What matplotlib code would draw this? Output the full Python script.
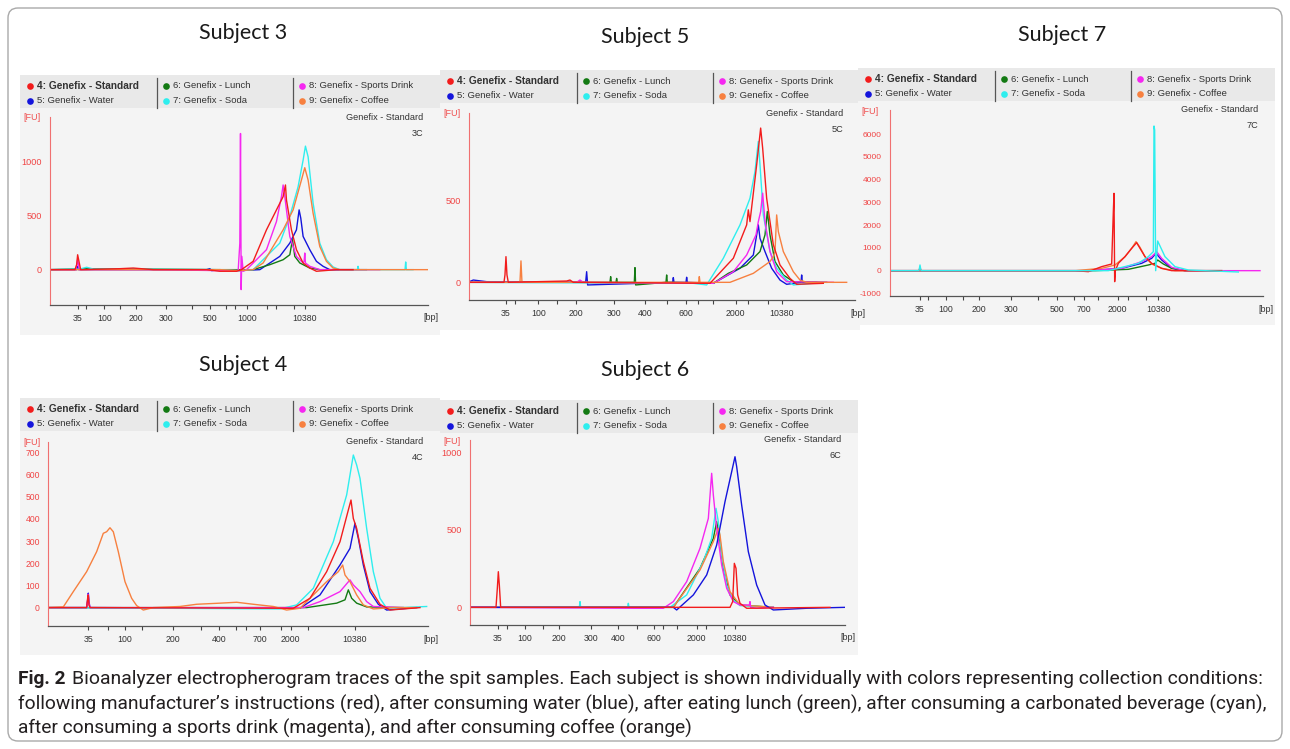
import matplotlib.pyplot as plt
from matplotlib.patches import Rectangle, FancyBboxPatch

W, H = 1290, 749

conditions = ['4: Genefix - Standard', '5: Genefix - Water', '6: Genefix - Lunch',
              '7: Genefix - Soda', '8: Genefix - Sports Drink', '9: Genefix - Coffee']
colors = ['#f21c1c', '#1414dc', '#137a13', '#2eeeee', '#f527f0', '#f7803f']
STD, WATER, LUNCH, SODA, SPORTS, COFFEE = range(6)

# ladder ticks: migration position of each ladder band and its bp label
s3_ticks = [173, 197, 253, 301, 347, 437, 517, 571, 617, 645, 683, 743, 769, 822, 855]
s3_tick_labels = ['35', '', '100', '', '200', '300', '', '500', '', '', '1000', '', '', '', '10380']
s5_ticks = [198, 225, 295, 352, 408, 521, 615, 680, 737, 773, 820, 887, 923, 983, 1025]
s5_tick_labels = ['35', '', '100', '', '200', '300', '400', '', '600', '', '', '2000', '', '', '10380']
s7_ticks = [195, 218, 273, 323, 372, 468, 550, 607, 658, 688, 730, 788, 818, 873, 910]
s7_tick_labels = ['35', '', '100', '', '200', '300', '', '500', '', '700', '', '2000', '', '', '10380']
s4_ticks = [205, 265, 315, 365, 460, 542, 597, 647, 678, 720, 783, 812, 865, 1005]
s4_tick_labels = ['35', '', '100', '', '200', '', '400', '', '', '700', '', '2000', '', '10380']
s6_ticks = [173, 200, 255, 308, 357, 452, 535, 592, 642, 670, 710, 770, 797, 852, 885]
s6_tick_labels = ['35', '', '100', '', '200', '300', '400', '', '600', '', '', '2000', '', '', '10380']

# traces: (migration position, fluorescence [FU])
s3_std = [(90, 0), (165, 0), (170, 46), (173, 138), (176, 92), (182, 0), (300, 9), (340, 15), (400, 0),
          (560, 0), (600, -15), (650, -15), (665, 0), (700, 77), (740, 369), (770, 554), (790, 677),
          (797, 785), (800, 646), (815, 369), (830, 185), (850, 62), (870, 15), (890, -15), (950, 0), (1000, 0)]
s3_water = [(90, 0), (170, 0), (173, 31), (176, 0), (560, 0), (570, 9), (575, -9), (600, 0), (660, -9),
            (720, 0), (780, 123), (810, 246), (830, 369), (838, 554), (843, 477), (850, 308), (870, 185),
            (890, 77), (910, 31), (930, 0), (1000, 0)]
s3_lunch = [(90, 0), (200, 9), (600, 0), (700, 0), (750, 46), (790, 92), (810, 138), (818, 277),
            (825, 123), (840, 62), (870, 15), (900, 0), (1040, 0)]
s3_soda = [(90, 0), (180, 6), (200, 22), (220, 6), (600, 0), (660, -9), (700, 0), (780, 246), (810, 492),
           (835, 769), (850, 1015), (857, 1145), (865, 1046), (880, 615), (900, 246), (920, 92), (940, 25),
           (960, 0), (1013, 0), (1015, 31), (1017, 0), (1156, 0), (1158, 71), (1160, 0), (1180, 0)]
s3_sports = [(90, 0), (168, 0), (173, 92), (178, 0), (400, 0), (600, -9), (655, -9), (660, 246), (662, 1262),
             (664, -185), (666, 123), (670, -15), (680, 0), (740, 185), (770, 446), (785, 677), (790, 785),
             (795, 677), (810, 308), (830, 123), (850, 62), (853, 77), (855, 154), (857, 62), (870, 31),
             (900, 0), (1080, 0)]
s3_coffee = [(90, 0), (600, 0), (660, -9), (700, 0), (730, 62), (790, 369), (820, 554), (845, 831),
             (855, 945), (865, 831), (880, 523), (900, 215), (920, 77), (940, 15), (960, 0), (1225, 0)]

s5_std = [(88, 0), (192, 0), (195, 45), (198, 157), (201, 45), (205, 0), (380, 8), (390, 14), (400, 0),
          (810, -6), (880, 147), (920, 351), (925, 443), (930, 371), (950, 718), (962, 943), (968, 820),
          (980, 514), (1000, 229), (1020, 106), (1050, 24), (1070, -12), (1150, -6)]
s5_water = [(88, 4), (100, 14), (140, 4), (437, 0), (440, 65), (443, -16), (698, 0), (700, 29), (702, 0),
            (738, 0), (740, 31), (742, 0), (820, -6), (900, 86), (940, 167), (955, 351), (960, 269),
            (975, 188), (995, 86), (1020, 14), (1040, -12), (1083, 0), (1085, 45), (1087, 0), (1130, 0)]
s5_lunch = [(88, 0), (510, 0), (512, 35), (514, 0), (528, 0), (530, 24), (532, 0), (583, 0), (585, 90),
            (587, -16), (678, 0), (680, 45), (682, 0), (820, -6), (865, 55), (920, 106), (960, 188),
            (975, 290), (982, 433), (990, 290), (1005, 127), (1030, 45), (1060, 4), (1160, 0)]
s5_soda = [(88, 0), (760, -6), (800, -16), (850, 147), (900, 351), (930, 514), (945, 678), (955, 861),
           (960, 718), (970, 412), (990, 188), (1010, 86), (1040, 14), (1060, -16), (1150, 0)]
s5_sports = [(88, 0), (410, 0), (420, 14), (430, 0), (820, -6), (880, 65), (920, 167), (948, 290),
             (955, 371), (962, 433), (968, 545), (975, 371), (990, 188), (1010, 65), (1040, 4), (1180, 0)]
s5_coffee = [(88, 0), (240, 0), (243, 131), (246, 0), (776, 0), (778, 35), (780, 0), (870, 0), (940, 55),
             (990, 127), (1000, 157), (1005, 188), (1010, 412), (1015, 310), (1030, 188), (1060, 65),
             (1080, 14), (1100, 0), (1220, 0)]

s7_std = [(105, 0), (192, 0), (195, 146), (198, 0), (660, 0), (700, -44), (740, 176), (770, 293),
          (775, 2592), (777, 3397), (779, -483), (781, 0), (790, 322), (810, 615), (830, 981), (845, 1230),
          (855, 981), (870, 615), (890, 322), (920, 102), (950, 0), (1100, 0)]
s7_water = [(105, 0), (700, 0), (800, 102), (860, 322), (890, 542), (903, 761), (920, 469), (950, 102),
            (990, 0), (1100, 0)]
s7_lunch = [(105, 0), (720, 0), (820, 59), (880, 249), (900, 322), (908, 469), (925, 293), (950, 102),
            (990, 0), (1100, 0)]
s7_soda = [(105, 0), (192, 0), (195, 249), (198, 0), (700, 0), (760, 0), (850, 322), (880, 615),
           (895, 835), (897, 6354), (899, 6179), (902, 0), (908, 1303), (930, 615), (960, 176), (1000, 29),
           (1150, -59)]
s7_sports = [(105, 0), (700, 0), (800, 102), (860, 395), (890, 615), (905, 835), (920, 542), (950, 146),
             (990, 0), (1215, 0)]
s7_coffee = [(105, 0), (660, 0), (740, 102), (780, 249), (810, 615), (830, 981), (843, 1274), (855, 1025),
             (870, 615), (890, 293), (920, 102), (960, 0), (1100, 0)]

s4_std = [(85, 0), (200, 0), (203, 42), (205, 57), (207, 12), (210, 0), (820, -3), (870, 42), (920, 162),
          (960, 297), (985, 440), (993, 485), (1000, 402), (1010, 357), (1030, 207), (1050, 87), (1080, 15),
          (1110, -11), (1200, 0)]
s4_water = [(85, 0), (200, 0), (203, 35), (205, 65), (207, 27), (210, 0), (840, -3), (900, 57), (960, 192),
            (990, 267), (1005, 380), (1015, 312), (1030, 192), (1050, 72), (1075, 15), (1100, -11), (1190, 0)]
s4_lunch = [(85, 0), (860, 0), (950, 20), (975, 35), (985, 80), (995, 42), (1010, 20), (1040, 3), (1150, 0)]
s4_soda = [(85, 0), (780, -6), (830, 12), (880, 87), (940, 297), (980, 508), (1000, 688), (1010, 643),
           (1020, 583), (1040, 357), (1060, 162), (1080, 42), (1100, -3), (1220, 5)]
s4_sports = [(85, 0), (200, 0), (203, 27), (205, 60), (207, 20), (210, 0), (850, 0), (900, 27), (960, 72),
             (990, 125), (1000, 102), (1020, 72), (1040, 27), (1060, 5), (1150, 0)]
s4_coffee = [(85, 0), (130, 3), (160, 72), (200, 162), (230, 252), (250, 335), (260, 342), (270, 360),
             (280, 342), (295, 252), (315, 117), (335, 42), (350, 9), (370, -11), (400, 0), (480, 5),
             (530, 15), (600, 20), (650, 24), (700, 15), (760, 5), (800, -11), (840, -3), (880, 57),
             (920, 117), (955, 162), (968, 192), (975, 147), (990, 117), (1000, 87), (1010, 57), (1030, 12),
             (1060, -6), (1120, 0), (1190, 0)]

s6_std = [(90, 0), (168, 0), (172, 123), (175, 230), (178, 144), (182, 0), (600, 0), (870, 0), (878, 37),
          (883, 284), (888, 252), (893, 80), (900, 26), (920, -6), (1170, 0)]
s6_water = [(90, 0), (700, 0), (710, -17), (760, 80), (800, 209), (830, 402), (855, 682), (875, 875),
            (885, 972), (890, 908), (905, 660), (925, 359), (950, 144), (975, 15), (1000, -17), (1100, -6),
            (1215, 0)]
s6_lunch = [(90, 0), (700, 0), (780, 252), (820, 445), (830, 553), (840, 424), (850, 252), (870, 80),
            (900, 15), (1000, 0)]
s6_soda = [(90, 0), (418, 0), (420, 37), (422, 0), (563, 0), (565, 26), (567, 0), (690, 0), (740, 80),
           (790, 295), (815, 445), (828, 639), (835, 553), (845, 338), (860, 144), (880, 47), (900, 11),
           (1000, 0)]
s6_sports = [(90, 0), (600, -6), (670, -6), (700, 37), (740, 166), (780, 381), (805, 574), (815, 865),
             (820, 725), (830, 510), (845, 273), (860, 123), (880, 37), (900, 15), (928, 15), (930, 37),
             (932, 0), (950, -6), (1000, 0)]
s6_coffee = [(90, 0), (700, 0), (780, 241), (820, 424), (835, 510), (840, 467), (850, 295), (870, 101),
             (900, 15), (1000, 0)]

fig = plt.figure(figsize=(W / 100, H / 100), dpi=100)
base = fig.add_axes([0, 0, 1, 1])
base.set_xlim(0, W)
base.set_ylim(H, 0)
base.axis('off')

base.add_patch(FancyBboxPatch((8, 8), W - 16, H - 16, boxstyle='round,pad=0,rounding_size=10',
                              facecolor='white', edgecolor='#a9a9a9', lw=1))

ui = 'Liberation Sans'


def draw_panel(title, title_xy, box, axbox, xlim, ylim, yticks, ticks, tick_labels, traces, tag, ysize=6.2):
    x0, y0, x1, y1 = box
    base.text(title_xy[0], title_xy[1], title, fontsize=15.5, family='Lato', ha='center', va='center',
              color='#1a1a1a')
    base.add_patch(Rectangle((x0, y0), x1 - x0, y1 - y0, facecolor='#f4f4f4', edgecolor='none'))
    base.add_patch(Rectangle((x0, y0), x1 - x0, 33, facecolor='#e9e9e9', edgecolor='none'))
    for i, lab in enumerate(conditions):
        cx = x0 + [10, 146, 282][i // 2]
        cy = y0 + [11, 25.5][i % 2]
        base.plot(cx, cy, 'o', ms=4.8, color=colors[i], mec='none')
        base.text(cx + 7, cy, lab, fontsize=7.3 if i == 0 else 6.8, family=ui, ha='left', va='center',
                  weight='bold' if i == 0 else 'normal', color='#333333')
    for sx in (137, 273):
        base.plot([x0 + sx, x0 + sx], [y0 + 3, y0 + 33], color='#555555', lw=0.9)

    l, t, r, b = axbox
    ax = fig.add_axes([l / W, 1 - b / H, (r - l) / W, (b - t) / H])
    ax.patch.set_alpha(0)
    for k, pts in traces:
        ax.plot([p[0] for p in pts], [p[1] for p in pts], color=colors[k], lw=1.0)
    ax.set_xlim(*xlim)
    ax.set_ylim(*ylim)
    for s in ('top', 'right'):
        ax.spines[s].set_visible(False)
    ax.spines['left'].set_color('#f07070')
    ax.spines['bottom'].set_color('#555555')
    ax.spines['bottom'].set_linewidth(0.9)
    ax.set_xticks(ticks, tick_labels)
    ax.set_yticks(yticks, [str(v) for v in yticks])
    ax.tick_params(axis='x', length=3, width=0.8, color='#444444', labelsize=6.3, labelcolor='#333333', pad=3.5)
    ax.tick_params(axis='y', length=0, labelsize=ysize, labelcolor='#f04545', pad=6)
    for lab in ax.get_xticklabels() + ax.get_yticklabels():
        lab.set_family(ui)

    base.text(x0 + 3, t + 1, '[FU]', fontsize=6.5, family=ui, color='#f05050', ha='left', va='center')
    base.text(r + 3, b + 13, '[bp]', fontsize=6.5, family=ui, color='#333333', ha='center', va='center')
    base.text(x1 - 17, t, 'Genefix - Standard', fontsize=6.6, family=ui, color='#333333',
              ha='right', va='center')
    base.text(x1 - 17, t + 16, tag, fontsize=6.6, family=ui, color='#333333', ha='right', va='center')


draw_panel('Subject 3', (243, 33), (20, 75, 440, 335), (50, 117, 428, 304.5), (90, 1225), (-323, 1415),
           [0, 500, 1000], s3_ticks, s3_tick_labels,
           [(WATER, s3_water), (LUNCH, s3_lunch), (SODA, s3_soda), (SPORTS, s3_sports),
            (COFFEE, s3_coffee), (STD, s3_std)], '3C', ysize=6.6)
draw_panel('Subject 5', (645, 37), (440, 70, 860, 330), (469.3, 113, 855, 300), (88, 1245), (-108, 1035),
           [0, 500], s5_ticks, s5_tick_labels,
           [(WATER, s5_water), (LUNCH, s5_lunch), (SODA, s5_soda), (SPORTS, s5_sports),
            (COFFEE, s5_coffee), (STD, s5_std)], '5C', ysize=6.6)
draw_panel('Subject 7', (1062, 35), (858, 68, 1275, 325), (890, 110, 1263, 296), (105, 1224), (-1113, 7057),
           [-1000, 0, 1000, 2000, 3000, 4000, 5000, 6000], s7_ticks, s7_tick_labels,
           [(WATER, s7_water), (LUNCH, s7_lunch), (SPORTS, s7_sports), (COFFEE, s7_coffee),
            (STD, s7_std), (SODA, s7_soda)], '7C', ysize=6.0)
draw_panel('Subject 4', (243, 365), (20, 398, 440, 655), (48.3, 441.7, 428, 626), (85, 1224), (-83, 748),
           [0, 100, 200, 300, 400, 500, 600, 700], s4_ticks, s4_tick_labels,
           [(WATER, s4_water), (LUNCH, s4_lunch), (SODA, s4_soda), (SPORTS, s4_sports),
            (COFFEE, s4_coffee), (STD, s4_std)], '4C')
draw_panel('Subject 6', (645, 370), (440, 400, 858, 655), (470, 440, 845, 625), (90, 1215), (-114, 1080),
           [0, 500, 1000], s6_ticks, s6_tick_labels,
           [(LUNCH, s6_lunch), (SODA, s6_soda), (COFFEE, s6_coffee), (SPORTS, s6_sports),
            (WATER, s6_water), (STD, s6_std)], '6C', ysize=6.6)

cap = ['Roboto', 'DejaVu Sans']
ink = '#231f20'
t0 = base.text(18, 679, 'Fig. 2', fontsize=12, weight='bold', family=cap, va='center', color=ink)
t1 = base.text(70, 679, 'Bioanalyzer electropherogram traces of the spit samples. Each subject is shown '
               'individually with colors representing collection conditions:', fontsize=12, family=cap,
               va='center', color=ink)
t2 = base.text(18, 704, 'following manufacturer\u2019s instructions (red), after consuming water (blue), '
               'after eating lunch (green), after consuming a carbonated beverage (cyan),', fontsize=12,
               family=cap, va='center', color=ink)
t3 = base.text(18, 728, 'after consuming a sports drink (magenta), and after consuming coffee (orange)',
               fontsize=12, family=cap, va='center', color=ink)

rend = fig.canvas.get_renderer()
right = 1262
t2.set_fontsize(t2.get_fontsize() * (right - 18) / t2.get_window_extent(rend).width)
t3.set_fontsize(t2.get_fontsize())
t0.set_fontsize(t2.get_fontsize())
x1 = 18 + t0.get_window_extent(rend).width + 7
t1.set_x(x1)
t1.set_fontsize(t1.get_fontsize() * (right - x1) / t1.get_window_extent(rend).width)

fig.savefig('out.png', dpi=100)
